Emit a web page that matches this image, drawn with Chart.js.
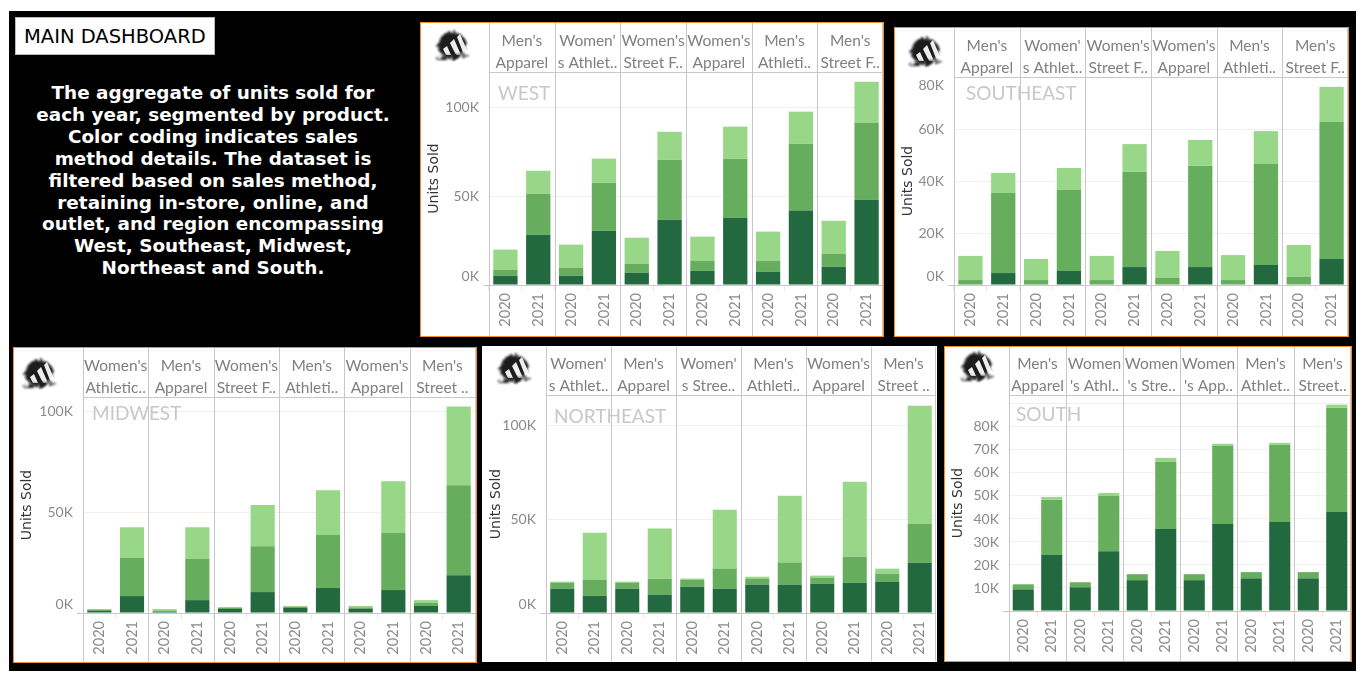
<!DOCTYPE html>
<html>
<head>
<meta charset="utf-8">
<title>Main Dashboard</title>
<script src="https://cdn.jsdelivr.net/npm/chart.js@4"></script>
<style>
  html, body { margin: 0; background: #fff; }
  #board { position: absolute; left: 9px; top: 11px; width: 1347px; height: 660px; background: #000; }
  #heading {
    position: absolute; left: 15px; top: 17px; width: 200px; height: 38px; box-sizing: border-box;
    background: #fff; border: 1px solid #bbb; color: #000;
    font: 19.5px/38px "DejaVu Sans"; padding-left: 8px;
  }
  #note {
    position: absolute; left: 13px; top: 82px; width: 400px; text-align: center; color: #fff;
    font: bold 18.4px/21.9px "DejaVu Sans";
  }
  .panel { position: absolute; background: #fff; box-sizing: border-box; }
  .panel canvas { position: absolute; left: 0; top: 0; }
  .panel svg { position: absolute; }
</style>
</head>
<body>
<div id="board"></div>
<div id="heading">MAIN DASHBOARD</div>
<div id="note">The aggregate of units sold for<br>each year, segmented by product.<br>Color coding indicates sales<br>method details. The dataset is<br>filtered based on sales method,<br>retaining in-store, online, and<br>outlet, and region encompassing<br>West, Southeast, Midwest,<br>Northeast and South.</div>

<script>
const years = ['2020', '2021'];

// values are thousands of units, stacked dark / medium / light
const westProducts = [["Men's", 'Apparel'], ["Women'", 's Athlet..'], ["Women's", 'Street F..'], ["Women's", 'Apparel'], ["Men's", 'Athleti..'], ["Men's", 'Street F..']];
const westDark = [5.2, 28.3, 5.2, 30.5, 6.9, 36.7, 8, 37.8, 7.5, 41.8, 10.3, 47.9];
const westMedium = [3.4, 23, 4.5, 27, 5.1, 33.7, 5.7, 33.2, 6.2, 37.6, 7.3, 43.3];
const westLight = [11.3, 12.9, 13, 13.5, 14.6, 15.7, 13.5, 18, 16.3, 18, 18.5, 23];

const southeastProducts = [["Men's", 'Apparel'], ["Women'", 's Athlet..'], ["Women's", 'Street F..'], ["Women's", 'Apparel'], ["Men's", 'Athleti..'], ["Men's", 'Street F..']];
const southeastDark = [0, 4.6, 0, 5.4, 0, 6.9, 0, 6.9, 0, 7.7, 0, 10];
const southeastMedium = [1.9, 30.8, 1.9, 31.1, 1.9, 36.6, 2.7, 38.9, 1.9, 38.8, 3.1, 52.7];
const southeastLight = [9.3, 7.7, 8.1, 8.5, 9.3, 10.7, 10.4, 10, 9.6, 12.7, 12.3, 13.5];

const midwestProducts = [["Women's", 'Athletic..'], ["Men's", 'Apparel'], ["Women's", 'Street F..'], ["Men's", 'Athleti..'], ["Women's", 'Apparel'], ["Men's", 'Street ..']];
const midwestDark = [1, 8.4, 0.5, 6.4, 2, 10.4, 2.5, 12.4, 2.1, 11.4, 3.5, 18.8];
const midwestMedium = [0.5, 18.9, 0.5, 20.4, 0.6, 22.8, 0.5, 26.3, 0.7, 28.3, 1.5, 44.7];
const midwestLight = [0.5, 15.3, 1, 15.8, 0.4, 20.4, 0.5, 22.3, 0.7, 25.8, 1.4, 39.1];

const northeastProducts = [["Women'", 's Athlet..'], ["Men's", 'Apparel'], ["Women'", 's Stree..'], ["Men's", 'Athleti..'], ["Women's", 'Apparel'], ["Men's", 'Street ..']];
const northeastDark = [12.9, 9.2, 12.9, 9.8, 14, 12.9, 15.1, 15.1, 15.6, 16.1, 16.7, 26.8];
const northeastMedium = [3.2, 8.5, 3.2, 8.5, 3.7, 10.7, 3.2, 11.7, 3.2, 13.9, 4.2, 20.7];
const northeastLight = [0.6, 25, 0.6, 26.6, 0.6, 31.4, 1, 35.6, 1.1, 39.9, 2.7, 62.8];

const southProducts = [["Men's", 'Apparel'], ['Women', "'s Athl.."], ['Women', "'s Stre.."], ['Women', "'s App.."], ["Men's", 'Athlet..'], ["Men's", 'Street..']];
const southDark = [9.4, 24.3, 10.3, 26, 13.4, 35.6, 13.4, 37.8, 14.2, 38.7, 14.2, 43];
const southMedium = [2.2, 24, 2.2, 24, 2.6, 29.2, 2.6, 34, 2.7, 33.5, 2.7, 45.4];
const southLight = [0, 1.3, 0, 1.3, 0, 1.8, 0, 0.9, 0, 0.9, 0, 1.3];

const colorDark = '#23693f';
const colorMedium = '#67ad5e';
const colorLight = '#98d788';
const lineColor = '#c8c8c8';
const textFont = 'Lato';

const panels = [
  { name: 'WEST', box: [420, 22, 464, 315], border: '#f28e2b', left: 68, header: 49, bottom: 51, right: 0, max: 119.7, step: 50, shift: [0], hidden: [], titleX: 9, titleY: 22, logo: [33, 25],
    products: westProducts, dark: westDark, medium: westMedium, light: westLight },
  { name: 'SOUTHEAST', box: [894, 27, 455, 310], border: '#f28e2b', left: 59, header: 49, bottom: 51, right: 0, max: 80, step: 20, shift: [0, 80], hidden: [], titleX: 12, titleY: 17, logo: [32, 26],
    products: southeastProducts, dark: southeastDark, medium: southeastMedium, light: southeastLight },
  { name: 'MIDWEST', box: [13, 347, 464, 316], border: '#f28e2b', left: 69, header: 49, bottom: 49, right: 1, max: 107.3, step: 50, shift: [0], hidden: [], titleX: 9, titleY: 17, logo: [27, 28],
    products: midwestProducts, dark: midwestDark, medium: midwestMedium, light: midwestLight },
  { name: 'NORTHEAST', box: [482, 346, 455, 316], border: '#fff', left: 63, header: 48, bottom: 48, right: 0, max: 116, step: 50, shift: [0], hidden: [], titleX: 8, titleY: 22, logo: [33, 24],
    products: northeastProducts, dark: northeastDark, medium: northeastMedium, light: northeastLight },
  { name: 'SOUTH', box: [944, 346, 408, 316], border: '#f28e2b', left: 64, header: 48, bottom: 50, right: 0, max: 93.9, step: 10, shift: [], hidden: [0, 90], titleX: 7, titleY: 20, logo: [34, 22],
    products: southProducts, dark: southDark, medium: southMedium, light: southLight }
];

// pane separators, header rule and the region name written over the plot
const panePlugin = {
  id: 'pane',
  afterDraw(chart) {
    const { ctx, chartArea, scales } = chart;
    ctx.save();
    ctx.strokeStyle = lineColor;
    ctx.lineWidth = 1;
    const n = scales.x2.ticks.length;
    const step = chartArea.width / n;
    ctx.beginPath();
    for (let i = 0; i <= n; i++) {
      const x = Math.min(Math.round(chartArea.left + step * i), chart.width - 1) + 0.5;
      ctx.moveTo(x, 0);
      ctx.lineTo(x, chart.height);
    }
    ctx.moveTo(chartArea.left, Math.round(chartArea.top) + 0.5);
    ctx.lineTo(chartArea.right, Math.round(chartArea.top) + 0.5);
    ctx.stroke();
    ctx.restore();
  },
  beforeDatasetsDraw(chart, args, opts) {
    const { ctx, chartArea } = chart;
    ctx.save();
    ctx.font = '19px ' + textFont;
    ctx.fillStyle = '#c9c7c9';
    ctx.textBaseline = 'middle';
    ctx.fillText(opts.name, chartArea.left + opts.x, chartArea.top + opts.y);
    ctx.restore();
  }
};

function tickLabel(p, value) {
  if (p.hidden.includes(value)) return '';
  const text = value + 'K';
  // the lowest and highest labels sit inside the plot, as the original does
  if (p.shift.includes(value)) return value === 0 ? [text, ''] : ['', text];
  return text;
}

function logoSvg(p) {
  return `<svg style="left:${p.logo[0] - 23}px;top:${p.logo[1] - 23}px" width="44" height="44" viewBox="0 0 44 44">
  <defs><filter id="smudge-${p.name}" x="-20%" y="-20%" width="140%" height="140%">
    <feTurbulence type="fractalNoise" baseFrequency="0.25" numOctaves="2" seed="4"/>
    <feDisplacementMap in="SourceGraphic" scale="9"/>
    <feGaussianBlur stdDeviation="0.9"/>
  </filter></defs>
  <ellipse cx="21" cy="20" rx="14" ry="13" fill="#1c1c1c" filter="url(#smudge-${p.name})"/>
  <path d="M12 24l4-3 4 9h-5zM19 18l4-4 7 16h-5zM26 12l3-3 9 21h-5z" fill="#fff" opacity="0.92"/>
  <path d="M5 32l32-3 1 2-32 4z" fill="#1c1c1c" filter="url(#smudge-${p.name})"/>
</svg>`;
}

function addPanel(p) {
  const [x, y, w, h] = p.box;
  const div = document.createElement('div');
  div.className = 'panel';
  div.style.cssText = `left:${x}px;top:${y}px;width:${w}px;height:${h}px;border:1px solid ${p.border}`;
  const canvas = document.createElement('canvas');
  canvas.width = w - 2;
  canvas.height = h - 2;
  canvas.style.width = (w - 2) + 'px';
  canvas.style.height = (h - 2) + 'px';
  div.appendChild(canvas);
  div.insertAdjacentHTML('beforeend', logoSvg(p));
  document.body.appendChild(div);

  const labels = [];
  p.products.forEach(() => years.forEach((year) => labels.push(year)));

  // axis sizes are pinned so the plot lands where the dashboard has it
  const pinX = (scale, height) => {
    scale.height = height;
    scale.paddingLeft = 0;
    scale.paddingRight = 0;
  };

  new Chart(canvas, {
    type: 'bar',
    data: {
      labels,
      datasets: [
        { label: 'Dark', data: p.dark, backgroundColor: colorDark },
        { label: 'Medium', data: p.medium, backgroundColor: colorMedium },
        { label: 'Light', data: p.light, backgroundColor: colorLight }
      ]
    },
    plugins: [panePlugin],
    options: {
      responsive: false,
      animation: false,
      devicePixelRatio: 1,
      layout: { padding: { right: p.right } },
      datasets: { bar: { barPercentage: 0.74, categoryPercentage: 1 } },
      plugins: {
        legend: { display: false },
        tooltip: { enabled: false },
        pane: { name: p.name, x: p.titleX, y: p.titleY }
      },
      scales: {
        x: {
          stacked: true,
          position: 'bottom',
          afterFit: (scale) => pinX(scale, p.bottom),
          grid: { drawOnChartArea: false, color: '#eaeaea', tickLength: 6, offset: true },
          border: { color: lineColor },
          ticks: { color: '#8a8a8a', font: { family: textFont, size: 14.5 }, minRotation: 90, maxRotation: 90, autoSkip: false, padding: 2 }
        },
        x2: {
          type: 'category',
          position: 'top',
          labels: p.products,
          offset: true,
          afterFit: (scale) => pinX(scale, p.header),
          grid: { display: false },
          border: { display: false },
          ticks: { color: '#808080', font: { family: textFont, size: 15.5, lineHeight: 1.42 }, maxRotation: 0, autoSkip: false, padding: -10 }
        },
        y: {
          stacked: true,
          min: 0,
          max: p.max,
          afterFit: (scale) => {
            scale.width = p.left;
            scale.paddingTop = 0;
            scale.paddingBottom = 0;
          },
          title: { display: true, text: 'Units Sold', color: '#333', font: { family: 'DejaVu Sans', size: 14 }, padding: { top: 5, bottom: 0 } },
          grid: {
            color: (c) => (c.tick.value === 0 ? lineColor : '#f0f0f0'),
            tickColor: (c) => (c.tick.value === 0 ? lineColor : 'transparent'),
            tickLength: 6
          },
          border: { display: false },
          ticks: { color: '#8a8a8a', font: { family: textFont, size: 14 }, stepSize: p.step, includeBounds: false, padding: 4, callback: (value) => tickLabel(p, value) }
        }
      }
    }
  });
}

panels.forEach(addPanel);
</script>
</body>
</html>
